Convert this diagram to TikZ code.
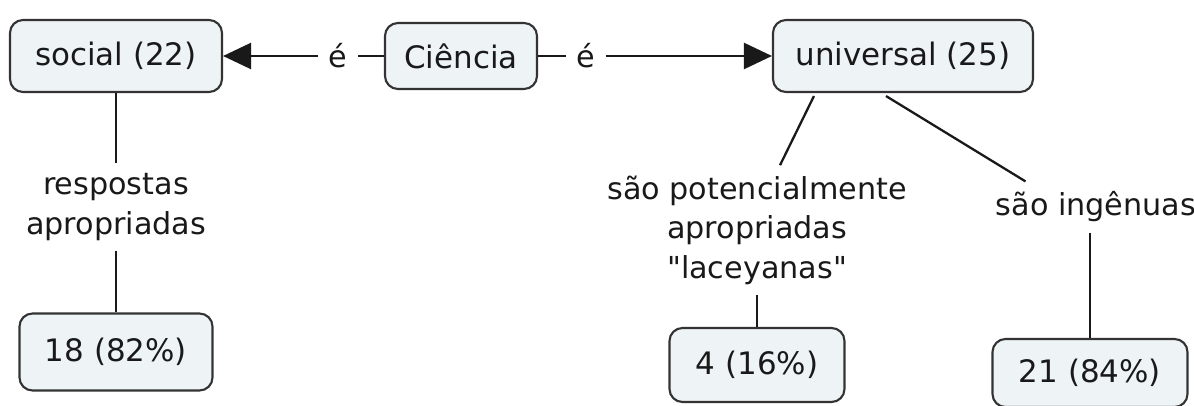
\documentclass[tikz,border=0pt]{standalone}
\usepackage{fontspec}
\setmainfont{DejaVu Sans}
\usetikzlibrary{positioning}
\usetikzlibrary{arrows.meta}

\definecolor{boxfill}{HTML}{EEF3F6}
\definecolor{boxline}{HTML}{333333}

\begin{document}
\begin{tikzpicture}[
    on grid,
    concept/.style={rectangle, rounded corners=0.26cm, draw=boxline, line width=1.2pt, fill=boxfill, text=black!90, font=\fontsize{17.6}{22.5}\selectfont},
    linkword/.style={align=center, inner sep=0.2cm, text=black!90, font=\fontsize{17.2}{22.5}\selectfont},
    link/.style={draw=black!90, line width=1.3pt},
]
    \useasboundingbox (0,0) rectangle (23.88,-8.12);

    \node[concept, minimum width=4.24cm, minimum height=1.44cm] (soc) at (2.32,-1.12) {social (22)};
    \node[concept, minimum width=3.04cm, minimum height=1.32cm] (cien) [right=6.9cm of soc] {Ciência};
    \node[concept, minimum width=5.2cm, minimum height=1.44cm] (univ) [right=8.84cm of cien] {universal (25)};

    \node[linkword] (e1) [left=2.46cm of cien] {é};
    \node[linkword] (e2) [right=2.5cm of cien] {é};

    \node[linkword] (resp) [below=3.02cm of soc] {respostas\\apropriadas};
    \node[concept, minimum width=3.86cm, minimum height=1.54cm] (r18) [below=2.9cm of resp] {18 (82\%)};

    \node[linkword] (pot) [below left=3.48cm and 2.92cm of univ] {são potencialmente\\apropriadas\\\textquotedbl laceyanas\textquotedbl};
    \node[concept, minimum width=3.5cm, minimum height=1.48cm] (r4) [below=2.7cm of pot] {4 (16\%)};

    \node[linkword] (ing) [below right=3.02cm and 3.86cm of univ] {são ingênuas};
    \node[concept, minimum width=3.9cm, minimum height=1.36cm] (r21) [below left=3.32cm and 0.12cm of ing] {21 (84\%)};

    \draw[link] (cien) -- (e1);
    \draw[link, -{Triangle[length=0.56cm, width=0.52cm]}] (e1) -- (soc);
    \draw[link] (cien) -- (e2);
    \draw[link, -{Triangle[length=0.56cm, width=0.52cm]}] (e2) -- (univ);

    \draw[link] (soc) -- (resp);
    \draw[link] (resp) -- (r18);

    \draw[link] ([xshift=0.84cm, yshift=-0.06cm]univ.south west) -- ([xshift=0.46cm]pot.north);
    \draw[link] (pot) -- (r4);

    \draw[link] ([xshift=-0.34cm, yshift=-0.06cm]univ.south) -- ([xshift=0.8cm]ing.north west);
    \draw[link] (ing.south -| r21.north) -- (r21.north);
\end{tikzpicture}
\end{document}
